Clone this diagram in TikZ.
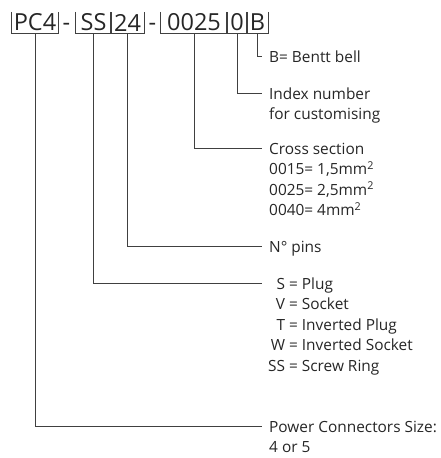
\documentclass[tikz,border=0pt]{standalone}
\usepackage{fontspec}
\setmainfont{Open Sans}
\newcommand{\codesize}{\fontsize{23.5}{26}\selectfont}
\newcommand{\lblsize}{\fontsize{15.4}{20.5}\selectfont}
\tikzstyle{codebox}=[inner sep=0pt,minimum height=21pt,font=\codesize,text=black!85]
\tikzstyle{lbl}=[inner sep=0pt,anchor=base west,font=\lblsize,text=black!85]
\tikzstyle{lead}=[line width=1pt,draw=black!75]

\begin{document}
\begin{tikzpicture}[x=1pt,y=-1pt]
\useasboundingbox (0,0) rectangle (440,458);
% code parts
\node[codebox,minimum width=46pt] (PC) at (35,22.5) {PC4};
\node[codebox,anchor=base] (d1) at (66.5,30) {-};
\node[codebox,minimum width=35pt] (SS) at (93.5,22.5) {SS};
\node[codebox,minimum width=33pt] (N) at (127.5,22.5) {24};
\node[codebox,anchor=base] (d2) at (152.5,30) {-};
\node[codebox,minimum width=66pt] (CS) at (194,22.5) {0025};
\node[codebox,minimum width=20pt] (IX) at (237,22.5) {0};
\node[codebox,minimum width=21pt] (B) at (257.5,22.5) {B};
\foreach \b in {PC,SS,N,CS,IX,B}
  \draw[lead] (\b.north west) |- (\b.south east) -- (\b.north east);
% line ends
\coordinate (eB) at (262,56);
\coordinate (eIX) at (262,93);
\coordinate (eCS) at (262,148);
\coordinate (eN) at (262,246);
\coordinate (eSS) at (262,283);
\coordinate (ePC) at (262,426);
\draw[lead] (B.south) |- (eB);
\draw[lead] (IX.south) |- (eIX);
\draw[lead] (CS.south) |- (eCS);
\draw[lead] (N.south) |- (eN);
\draw[lead] (SS.south) |- (eSS);
\draw[lead] (PC.south) |- (ePC);
% labels
\node[lbl] (tB) at ([shift={(7,6)}]eB) {B= Bentt bell};
\node[lbl] (tIX) at ([shift={(7,6)}]eIX) {\begin{tabular}[t]{@{}l@{}}Index number\\for customising\end{tabular}};
\node[lbl] (tCS) at ([shift={(7,6)}]eCS) {\begin{tabular}[t]{@{}l@{}}Cross section\\0015= 1,5mm\textsuperscript{2}\\0025= 2,5mm\textsuperscript{2}\\0040= 4mm\textsuperscript{2}\end{tabular}};
\node[lbl] (tN) at ([shift={(7,6)}]eN) {N° pins};
\node[lbl] (tSS) at ([shift={(6,6)}]eSS) {\begin{tabular}[t]{@{}r@{ = }l@{}}S&Plug\\V&Socket\\T&Inverted Plug\\W&Inverted Socket\\SS&Screw Ring\end{tabular}};
\node[lbl] (tPC) at ([shift={(7,6)}]ePC) {\begin{tabular}[t]{@{}l@{}}Power Connectors Size:\\4 or 5\end{tabular}};
\end{tikzpicture}
\end{document}
